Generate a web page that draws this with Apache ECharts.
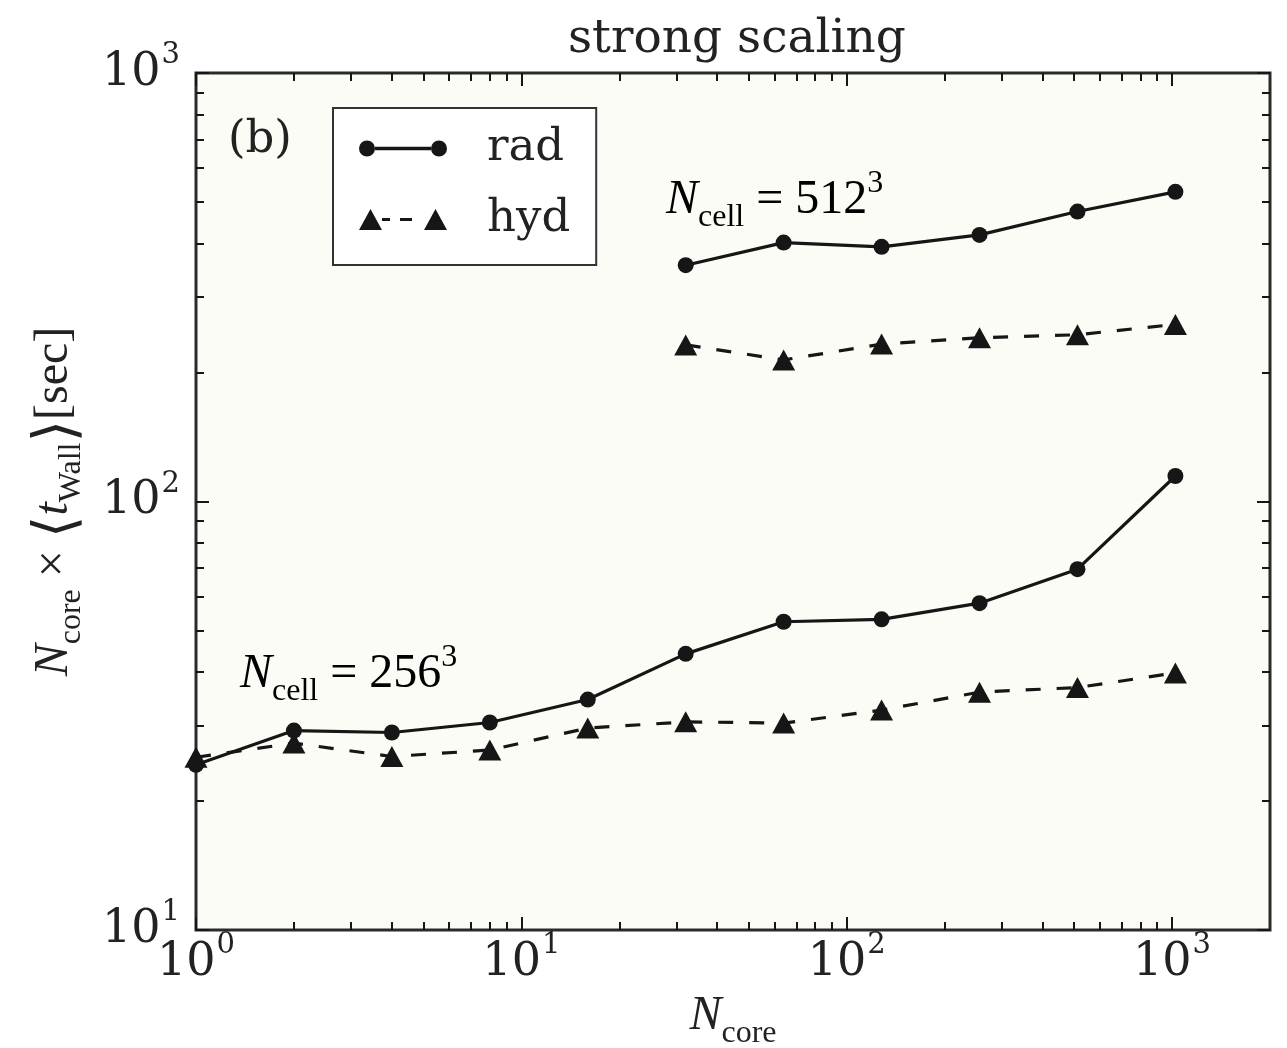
<!DOCTYPE html>
<html>
<head>
<meta charset="utf-8">
<script src="https://cdn.jsdelivr.net/npm/echarts@6/dist/echarts.min.js"></script>
<style>
html,body{margin:0;padding:0;background:#ffffff;}
#chart{width:1287px;height:1048px;}
</style>
</head>
<body>
<div id="chart"></div>
<script>
// ---- data ----
const nCore256 = [1, 2, 4, 8, 16, 32, 64, 128, 256, 512, 1024];
const rad256 = [24.3, 29.2, 28.9, 30.5, 34.5, 44.1, 52.4, 53.1, 57.9, 69.5, 114.7];
const hyd256 = [25.3, 27.3, 25.4, 26.3, 29.6, 30.6, 30.4, 32.6, 35.9, 36.8, 39.8];
const nCore512 = [32, 64, 128, 256, 512, 1024];
const rad512 = [356, 402, 393, 419, 475, 528];
const hyd512 = [232, 214, 233, 241, 245, 259];

const xMajorTicks = [1, 10, 100, 1000];
const xMinorTicks = [2,3,4,5,6,7,8,9,20,30,40,50,60,70,80,90,200,300,400,500,600,700,800,900];
const yMajorTicks = [10, 100, 1000];
const yMinorTicks = [20,30,40,50,60,70,80,90,200,300,400,500,600,700,800,900];
const xRange = [1, 2000];
const yRange = [10, 1000];

const titleText = 'strong scaling';
const legendNames = ['rad', 'hyd'];

// ---- styling helpers ----
const INK = '#161616';
const TXT = '#222222';
const tickFont = 'DejaVu Serif';
const mathFont = 'Liberation Serif';

function pair(xs, ys) { return xs.map((x, i) => [x, ys[i]]); }

function powLabel(v) {
  const e = Math.round(Math.log10(v));
  return '{b|10}{s|' + e + '}';
}
const tickRich = {
  b: { fontFamily: tickFont, fontSize: 46, lineHeight: 46, color: TXT, verticalAlign: 'bottom' },
  s: { fontFamily: tickFont, fontSize: 29, lineHeight: 29, color: TXT, verticalAlign: 'bottom', padding: [0, 0, 26, 1] }
};

const mathRich = {
  n: { fontFamily: mathFont, fontStyle: 'italic', fontSize: 48, lineHeight: 48, color: TXT, verticalAlign: 'bottom', padding: [0, 0, 10, 0] },
  r: { fontFamily: mathFont, fontSize: 48, lineHeight: 48, color: TXT, verticalAlign: 'bottom', padding: [0, 0, 10, 0] },
  sub: { fontFamily: mathFont, fontSize: 32, lineHeight: 32, color: TXT, verticalAlign: 'bottom', padding: [0, 0, 0, 0] },
  sup: { fontFamily: mathFont, fontSize: 32, lineHeight: 32, color: TXT, verticalAlign: 'bottom', padding: [0, 0, 34, 0] },
  br: { fontFamily: 'DejaVu Sans', fontSize: 58, lineHeight: 58, color: TXT, verticalAlign: 'bottom', padding: [0, 0, 0, 0] }
};

function tickAxis(dim, position, values, len, showLabel, range) {
  return {
    type: 'log',
    logBase: 10,
    min: range[0],
    max: range[1],
    position: position,
    axisLine: { show: false, onZero: false },
    splitLine: { show: false },
    minorTick: { show: false },
    axisTick: { show: true, inside: true, length: len, customValues: values, lineStyle: { color: INK, width: 2 } },
    axisLabel: { show: showLabel, customValues: values, formatter: powLabel, rich: tickRich, margin: dim === 'x' ? 10 : 16 },
    silent: true
  };
}

const xAxes = [
  tickAxis('x', 'bottom', xMajorTicks, 13, true, xRange),
  tickAxis('x', 'bottom', xMinorTicks, 8, false, xRange),
  tickAxis('x', 'top', xMajorTicks, 13, false, xRange),
  tickAxis('x', 'top', xMinorTicks, 8, false, xRange)
];
xAxes[0].name = '{n|N}{sub|core}';
xAxes[0].nameLocation = 'middle';
xAxes[0].nameGap = 72;
xAxes[0].nameTextStyle = { rich: mathRich };

const yAxes = [
  tickAxis('y', 'left', yMajorTicks, 13, true, yRange),
  tickAxis('y', 'left', yMinorTicks, 8, false, yRange),
  tickAxis('y', 'right', yMajorTicks, 13, false, yRange),
  tickAxis('y', 'right', yMinorTicks, 8, false, yRange)
];
yAxes[0].name = '{n|N}{sub|core}{r| × }{br|⟨}{n|t}{sub|Wall}{br|⟩}{r|[sec]}';
yAxes[0].nameLocation = 'middle';
yAxes[0].nameRotate = 90;
yAxes[0].nameGap = 108;
yAxes[0].nameTextStyle = { rich: mathRich };

const dashed = [15, 16];

const radIcon = 'path://M44,0 L44.01,0 L44.01,0.01 Z M44,20.99 L44.01,20.99 L44.01,21 Z ' +
  'M0,10.5 A8,8 0 1,1 16,10.5 A8,8 0 1,1 0,10.5 Z ' +
  'M16,8.8 L72,8.8 L72,12.2 L16,12.2 Z ' +
  'M72,10.5 A8,8 0 1,1 88,10.5 A8,8 0 1,1 72,10.5 Z';
const hydIcon = 'path://M0,21 L11.5,0 L23,21 Z ' +
  'M23,9 L31,9 L31,12 L23,12 Z ' +
  'M41,9 L53,9 L53,12 L41,12 Z ' +
  'M65,21 L76.5,0 L88,21 Z';

const chart = echarts.init(document.getElementById('chart'), null, { renderer: 'canvas' });

const option = {
  backgroundColor: '#ffffff',
  animation: false,
  title: {
    text: titleText,
    left: 563,
    top: 11,
    textStyle: { fontFamily: tickFont, fontSize: 47, fontWeight: 'normal', color: TXT }
  },
  grid: {
    left: 196, top: 73, right: 17, bottom: 118,
    show: true,
    backgroundColor: '#fcfcf7',
    borderColor: '#2a2a2a',
    borderWidth: 3,
    containLabel: false,
    outerBoundsMode: 'none'
  },
  legend: {
    orient: 'vertical',
    left: 333,
    top: 108,
    padding: [18, 26, 23, 26],
    itemGap: 26,
    itemWidth: 88,
    itemHeight: 21,
    borderColor: '#333333',
    borderWidth: 2,
    backgroundColor: '#ffffff',
    selectedMode: false,
    data: [
      { name: legendNames[0], icon: radIcon },
      { name: legendNames[1], icon: hydIcon }
    ],
    itemStyle: { color: INK, borderWidth: 0 },
    textStyle: { fontFamily: tickFont, fontSize: 45, lineHeight: 44, color: TXT, padding: [0, 0, 0, 35] }
  },
  xAxis: xAxes,
  yAxis: yAxes,
  graphic: [
    {
      type: 'text', left: 666, top: 168, z: 100,
      style: { text: '{n|N}{sub|cell}{r| = 512}{sup|3}', rich: mathRich }
    },
    {
      type: 'text', left: 240, top: 642, z: 100,
      style: { text: '{n|N}{sub|cell}{r| = 256}{sup|3}', rich: mathRich }
    },
    {
      type: 'text', left: 228, top: 118, z: 100,
      style: { text: '(b)', fontFamily: tickFont, fontSize: 45, fill: TXT }
    }
  ],
  series: [
    {
      name: legendNames[0], type: 'line', xAxisIndex: 0, yAxisIndex: 0,
      data: pair(nCore256, rad256),
      symbol: 'circle', symbolSize: 16,
      lineStyle: { color: INK, width: 3.2 }, itemStyle: { color: INK },
      z: 3
    },
    {
      name: legendNames[1], type: 'line', xAxisIndex: 0, yAxisIndex: 0,
      data: pair(nCore256, hyd256),
      symbol: 'triangle', symbolSize: [23, 21],
      lineStyle: { color: INK, width: 3.2, type: dashed }, itemStyle: { color: INK },
      z: 2
    },
    {
      name: legendNames[0], type: 'line', xAxisIndex: 0, yAxisIndex: 0,
      data: pair(nCore512, rad512),
      symbol: 'circle', symbolSize: 16,
      lineStyle: { color: INK, width: 3.2 }, itemStyle: { color: INK },
      z: 3
    },
    {
      name: legendNames[1], type: 'line', xAxisIndex: 0, yAxisIndex: 0,
      data: pair(nCore512, hyd512),
      symbol: 'triangle', symbolSize: [23, 21],
      lineStyle: { color: INK, width: 3.2, type: dashed }, itemStyle: { color: INK },
      z: 2
    }
  ]
};
chart.setOption(option);
</script>
</body>
</html>
